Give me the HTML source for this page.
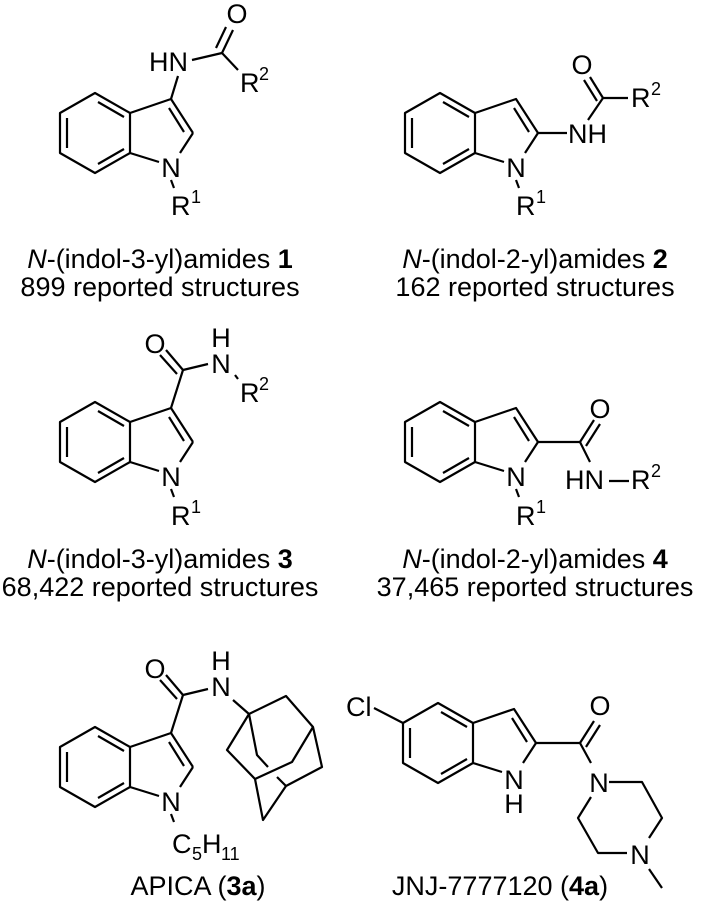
<!DOCTYPE html>
<html><head><meta charset="utf-8"><style>
html,body{margin:0;padding:0;background:#fff;}
svg{display:block;}
</style></head><body>
<svg width="707" height="906" viewBox="0 0 707 906" xmlns="http://www.w3.org/2000/svg" font-family="Liberation Sans, Arial, sans-serif">
<defs>
<g id="ind" fill="none" stroke="#000" stroke-width="2.2" stroke-linejoin="round">
<polyline points="35,20 0,0 -35,20 -35,60 0,80 35,60 35,20 76,6 98,40"/>
<line x1="35" y1="60" x2="64" y2="69"/>
<line x1="98" y1="40" x2="85" y2="60"/>
<line x1="-28" y1="25" x2="-28" y2="55"/>
<line x1="3" y1="9" x2="29" y2="24"/>
<line x1="3" y1="71" x2="29" y2="56"/>
<line x1="74" y1="15" x2="89" y2="39"/>
</g>
</defs>

<g stroke="#000" stroke-width="2.2" fill="none" stroke-linejoin="round">
<use href="#ind" x="95" y="93"/>
<line x1="171" y1="180" x2="174" y2="188"/>
<line x1="171" y1="99" x2="178" y2="76"/>
<line x1="192" y1="60" x2="222" y2="53"/>
<line x1="222" y1="53" x2="233" y2="30"/>
<line x1="216" y1="48" x2="226" y2="27"/>
<line x1="222" y1="53" x2="238" y2="70"/>

<use href="#ind" x="440" y="93"/>
<line x1="516" y1="180" x2="519" y2="188"/>
<line x1="538" y1="133" x2="567" y2="133"/>
<line x1="588" y1="120" x2="603" y2="98"/>
<line x1="603" y1="98" x2="590" y2="77"/>
<line x1="597" y1="101" x2="584" y2="80"/>
<line x1="603" y1="98" x2="628" y2="98"/>

<use href="#ind" x="95" y="402"/>
<line x1="171" y1="489" x2="174" y2="497"/>
<line x1="171" y1="408" x2="183" y2="370"/>
<line x1="183" y1="370" x2="166" y2="350"/>
<line x1="177" y1="374" x2="160" y2="355"/>
<line x1="183" y1="370" x2="208" y2="364"/>
<line x1="235" y1="375" x2="238" y2="379"/>

<use href="#ind" x="440" y="402"/>
<line x1="516" y1="489" x2="519" y2="497"/>
<line x1="538" y1="442" x2="580" y2="442"/>
<line x1="580" y1="442" x2="594" y2="420"/>
<line x1="586" y1="446" x2="600" y2="424"/>
<line x1="580" y1="442" x2="590" y2="462"/>
<line x1="609" y1="481" x2="629" y2="481"/>

<use href="#ind" x="95" y="727"/>
<line x1="171" y1="814" x2="174" y2="822"/>
<line x1="171" y1="733" x2="183" y2="695"/>
<line x1="183" y1="695" x2="166" y2="675"/>
<line x1="177" y1="699" x2="160" y2="680"/>
<line x1="183" y1="695" x2="208" y2="689"/>
<line x1="233" y1="700" x2="249" y2="714"/>
<polyline points="249,714 286,696 313,727 322,767 286,786 263,820 255,779 227,750 249,714"/>
<polyline points="249,714 257,755 268,767"/>
<polyline points="313,727 292,762 255,779"/>
<line x1="286" y1="786" x2="277" y2="777"/>

<use href="#ind" x="438" y="703"/>
<line x1="374" y1="708" x2="403" y2="723"/>
<line x1="536" y1="743" x2="580" y2="743"/>
<line x1="580" y1="743" x2="594" y2="721"/>
<line x1="586" y1="747" x2="600" y2="725"/>
<line x1="580" y1="743" x2="591" y2="763"/>
<polyline points="609,782 642,782 662,818 649,838"/>
<polyline points="627,853 598,853 578,818 591,797"/>
<line x1="649" y1="869" x2="662" y2="888"/>
</g>

<g font-size="27" fill="#000">
<text x="171" y="177" text-anchor="middle">N</text>
<text x="171" y="215">R</text>
<text x="188" y="71" text-anchor="end">HN</text>
<text x="237" y="23" text-anchor="middle">O</text>
<text x="240" y="92">R</text>

<text x="516" y="177" text-anchor="middle">N</text>
<text x="516" y="215">R</text>
<text x="568" y="143">NH</text>
<text x="582" y="74" text-anchor="middle">O</text>
<text x="631" y="107">R</text>

<text x="171" y="486" text-anchor="middle">N</text>
<text x="171" y="525">R</text>
<text x="155" y="353" text-anchor="middle">O</text>
<text x="221" y="347" text-anchor="middle">H</text>
<text x="221" y="373" text-anchor="middle">N</text>
<text x="240" y="402">R</text>

<text x="516" y="486" text-anchor="middle">N</text>
<text x="516" y="525">R</text>
<text x="600" y="418" text-anchor="middle">O</text>
<text x="565" y="489">HN</text>
<text x="631" y="489">R</text>

<text x="171" y="811" text-anchor="middle">N</text>
<text x="172" y="853">C</text>
<text x="202" y="853">H</text>
<text x="155" y="678" text-anchor="middle">O</text>
<text x="221" y="670" text-anchor="middle">H</text>
<text x="221" y="696" text-anchor="middle">N</text>

<text x="514" y="789" text-anchor="middle">N</text>
<text x="514" y="813" text-anchor="middle">H</text>
<text x="346" y="716">Cl</text>
<text x="600" y="715" text-anchor="middle">O</text>
<text x="599" y="792" text-anchor="middle">N</text>
<text x="640" y="864" text-anchor="middle">N</text>
</g>
<g font-size="18" fill="#000">
<text x="191" y="203">1</text>
<text x="259" y="80">2</text>
<text x="536" y="203">1</text>
<text x="651" y="95">2</text>
<text x="191" y="513">1</text>
<text x="259" y="390">2</text>
<text x="536" y="513">1</text>
<text x="651" y="477">2</text>
<text x="192" y="860">5</text>
<text x="221" y="860">11</text>
</g>

<g font-size="27" fill="#000" text-anchor="middle">
<text x="160" y="268"><tspan font-style="italic">N</tspan>-(indol-3-yl)amides <tspan font-weight="bold">1</tspan></text>
<text x="160" y="296">899 reported structures</text>
<text x="535" y="268"><tspan font-style="italic">N</tspan>-(indol-2-yl)amides <tspan font-weight="bold">2</tspan></text>
<text x="535" y="296">162 reported structures</text>
<text x="160" y="568"><tspan font-style="italic">N</tspan>-(indol-3-yl)amides <tspan font-weight="bold">3</tspan></text>
<text x="160" y="596">68,422 reported structures</text>
<text x="535" y="568"><tspan font-style="italic">N</tspan>-(indol-2-yl)amides <tspan font-weight="bold">4</tspan></text>
<text x="535" y="596">37,465 reported structures</text>
<text x="198" y="895">APICA (<tspan font-weight="bold">3a</tspan>)</text>
<text x="500" y="895">JNJ-7777120 (<tspan font-weight="bold">4a</tspan>)</text>
</g>
</svg>
</body></html>
